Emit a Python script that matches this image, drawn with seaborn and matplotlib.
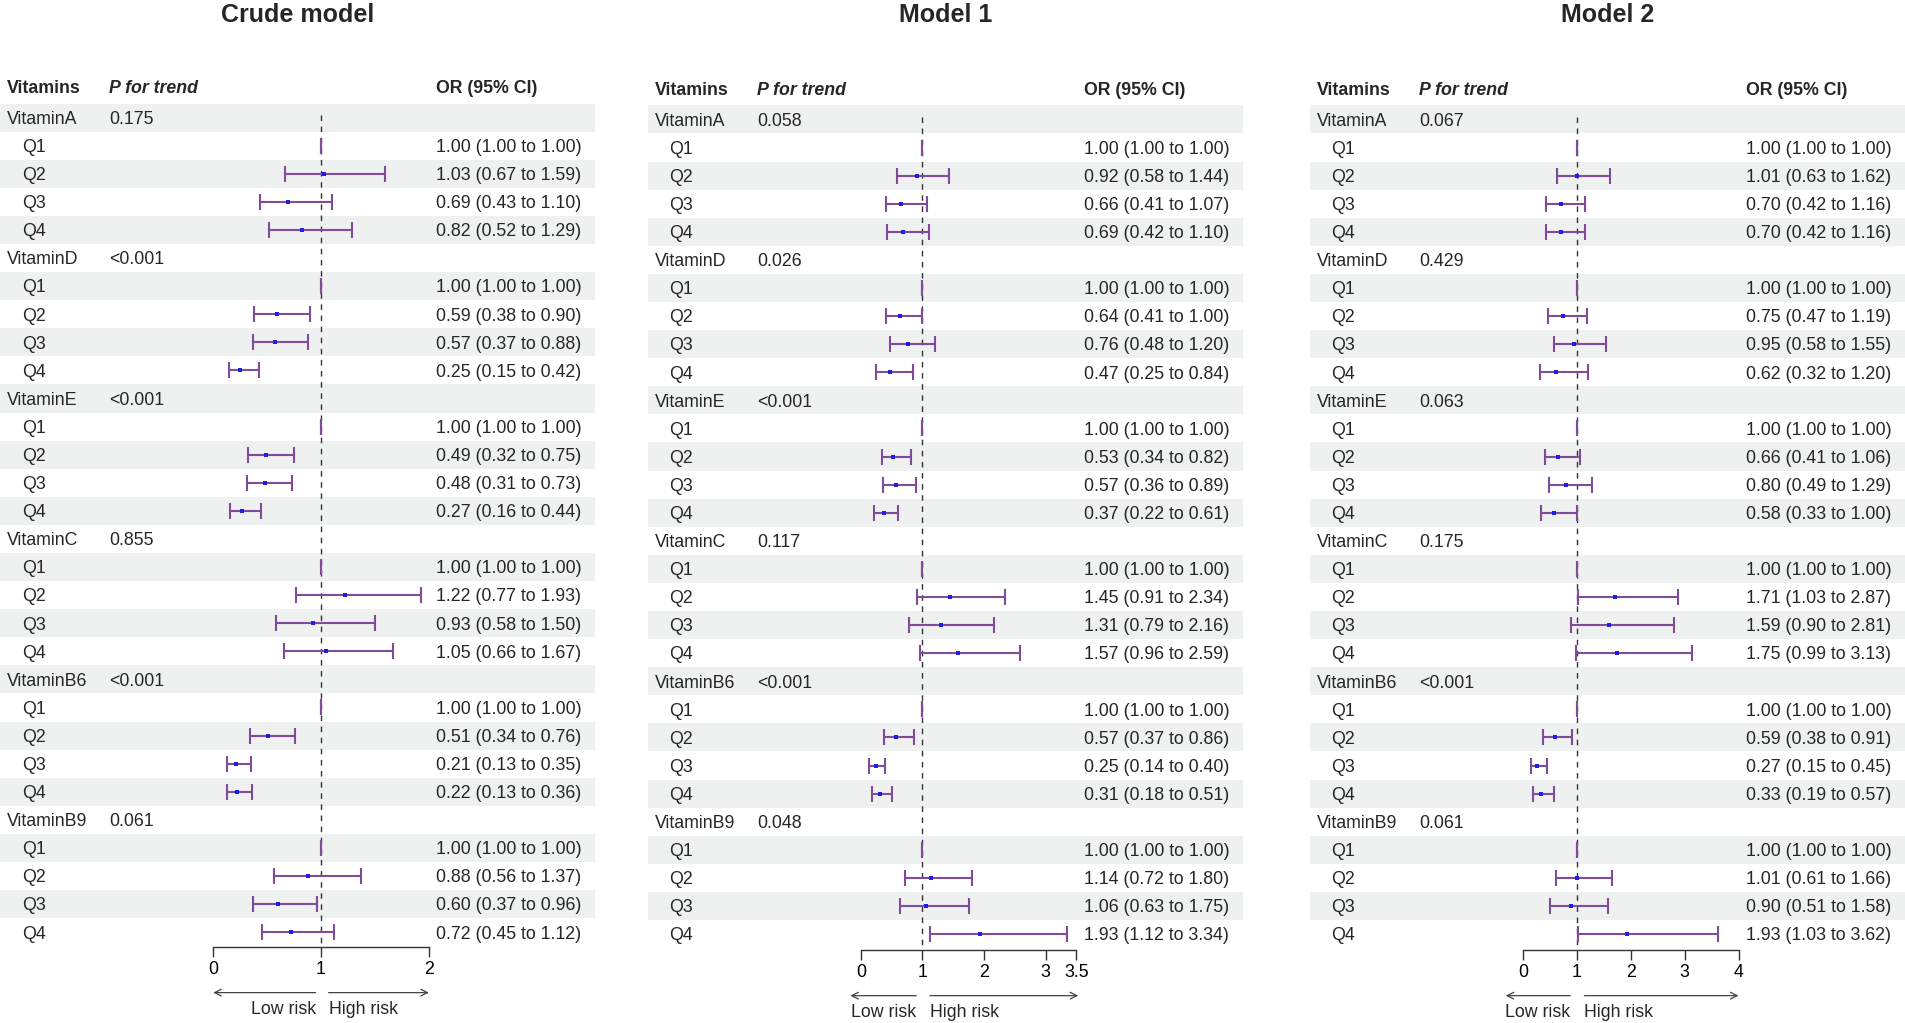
import matplotlib.pyplot as plt
import pandas as pd
import seaborn as sns
from matplotlib.patches import Rectangle

# ---- data ----
vitamins = ["VitaminA", "VitaminD", "VitaminE", "VitaminC", "VitaminB6", "VitaminB9"]
quartiles = ["Q1", "Q2", "Q3", "Q4"]

p_crude = ["0.175", "<0.001", "<0.001", "0.855", "<0.001", "0.061"]
or_crude = [1.00, 1.03, 0.69, 0.82, 1.00, 0.59, 0.57, 0.25, 1.00, 0.49, 0.48, 0.27,
            1.00, 1.22, 0.93, 1.05, 1.00, 0.51, 0.21, 0.22, 1.00, 0.88, 0.60, 0.72]
lo_crude = [1.00, 0.67, 0.43, 0.52, 1.00, 0.38, 0.37, 0.15, 1.00, 0.32, 0.31, 0.16,
            1.00, 0.77, 0.58, 0.66, 1.00, 0.34, 0.13, 0.13, 1.00, 0.56, 0.37, 0.45]
hi_crude = [1.00, 1.59, 1.10, 1.29, 1.00, 0.90, 0.88, 0.42, 1.00, 0.75, 0.73, 0.44,
            1.00, 1.93, 1.50, 1.67, 1.00, 0.76, 0.35, 0.36, 1.00, 1.37, 0.96, 1.12]

p_m1 = ["0.058", "0.026", "<0.001", "0.117", "<0.001", "0.048"]
or_m1 = [1.00, 0.92, 0.66, 0.69, 1.00, 0.64, 0.76, 0.47, 1.00, 0.53, 0.57, 0.37,
         1.00, 1.45, 1.31, 1.57, 1.00, 0.57, 0.25, 0.31, 1.00, 1.14, 1.06, 1.93]
lo_m1 = [1.00, 0.58, 0.41, 0.42, 1.00, 0.41, 0.48, 0.25, 1.00, 0.34, 0.36, 0.22,
         1.00, 0.91, 0.79, 0.96, 1.00, 0.37, 0.14, 0.18, 1.00, 0.72, 0.63, 1.12]
hi_m1 = [1.00, 1.44, 1.07, 1.10, 1.00, 1.00, 1.20, 0.84, 1.00, 0.82, 0.89, 0.61,
         1.00, 2.34, 2.16, 2.59, 1.00, 0.86, 0.40, 0.51, 1.00, 1.80, 1.75, 3.34]

p_m2 = ["0.067", "0.429", "0.063", "0.175", "<0.001", "0.061"]
or_m2 = [1.00, 1.01, 0.70, 0.70, 1.00, 0.75, 0.95, 0.62, 1.00, 0.66, 0.80, 0.58,
         1.00, 1.71, 1.59, 1.75, 1.00, 0.59, 0.27, 0.33, 1.00, 1.01, 0.90, 1.93]
lo_m2 = [1.00, 0.63, 0.42, 0.42, 1.00, 0.47, 0.58, 0.32, 1.00, 0.41, 0.49, 0.33,
         1.00, 1.03, 0.90, 0.99, 1.00, 0.38, 0.15, 0.19, 1.00, 0.61, 0.51, 1.03]
hi_m2 = [1.00, 1.62, 1.16, 1.16, 1.00, 1.19, 1.55, 1.20, 1.00, 1.06, 1.29, 1.00,
         1.00, 2.87, 2.81, 3.13, 1.00, 0.91, 0.45, 0.57, 1.00, 1.66, 1.58, 3.62]

titles = ["Crude model", "Model 1", "Model 2"]
xticks_crude = [0, 1, 2]
xticks_m1 = [0, 1, 2, 3, 3.5]
xticks_m2 = [0, 1, 2, 3, 4]

# ---- layout (reference pixel frame 1568 x 842) ----
W, H = 1568, 842
DY = 23.12
TXT_DY = 1.5  # nudge text down a touch
GRAY = "#eff0f0"
PURPLE = "#7f4c9c"
BLUE = "#1e1ee6"


def fx(x):
    return x / W


def fy(y):
    return 1 - y / H


def panel_frame(or_vals, lo_vals, hi_vals):
    rows, ors, los, his = [], [], [], []
    k = 0
    for j in range(len(vitamins)):
        for q in range(len(quartiles)):
            rows.append(j * 5 + 1 + q)
            ors.append(or_vals[k])
            los.append(lo_vals[k])
            his.append(hi_vals[k])
            k += 1
    return pd.DataFrame({"row": rows, "or": ors, "lo": los, "hi": his})


panels = [
    dict(title=titles[0], p=p_crude, df=panel_frame(or_crude, lo_crude, hi_crude),
         left=0, y0=96.8, head_y=71, axis_y=779.5, xmax=2, ticks=xticks_crude,
         arrows=((0.95, 0.0), (1.07, 2.0))),
    dict(title=titles[1], p=p_m1, df=panel_frame(or_m1, lo_m1, hi_m1),
         left=533, y0=98.3, head_y=73, axis_y=782, xmax=3.5, ticks=xticks_m1,
         arrows=((0.90, -0.17), (1.12, 3.53))),
    dict(title=titles[2], p=p_m2, df=panel_frame(or_m2, lo_m2, hi_m2),
         left=1078, y0=98.3, head_y=73, axis_y=782, xmax=4, ticks=xticks_m2,
         arrows=((0.88, -0.32), (1.14, 4.0))),
]

sns.set_theme(style="white")
plt.rcParams["font.family"] = ["Liberation Sans", "DejaVu Sans"]
FS = 12.8

fig = plt.figure(figsize=(19.05, 10.23), dpi=100)
bg = fig.add_axes([0, 0, 1, 1])
bg.set_xlim(0, W)
bg.set_ylim(H, 0)
bg.axis("off")

for pan in panels:
    L = pan["left"]
    y0 = pan["y0"]
    n_rows = len(vitamins) * 5

    # striped rows
    for i in range(0, n_rows, 2):
        bg.add_patch(Rectangle((L, y0 + i * DY - DY / 2), min(490, W - L), DY,
                               facecolor=GRAY, linewidth=0))

    bg.text(L + 245, 12, pan["title"], ha="center", va="center",
            fontsize=18, fontweight="bold")
    hy = pan["head_y"] + TXT_DY
    bg.text(L + 6, hy, "Vitamins", ha="left", va="center",
            fontsize=FS, fontweight="bold")
    bg.text(L + 90, hy, "P for trend", ha="left", va="center",
            fontsize=FS, fontweight="bold", fontstyle="italic")
    bg.text(L + 359, hy, "OR (95% CI)", ha="left", va="center",
            fontsize=FS, fontweight="bold")

    df = pan["df"]
    for j, vit in enumerate(vitamins):
        yy = y0 + j * 5 * DY + TXT_DY
        bg.text(L + 6, yy, vit, ha="left", va="center", fontsize=FS)
        bg.text(L + 90, yy, pan["p"][j], ha="left", va="center", fontsize=FS)
    for _, r in df.iterrows():
        yy = y0 + r["row"] * DY + TXT_DY
        q = quartiles[(int(r["row"]) - 1) % 5]
        bg.text(L + 18, yy, q, ha="left", va="center", fontsize=FS)
        bg.text(L + 359, yy, f"{r['or']:.2f} ({r['lo']:.2f} to {r['hi']:.2f})",
                ha="left", va="center", fontsize=FS)

    # forest axes
    top = y0 - DY / 2
    bottom = pan["axis_y"]
    x0, xw = L + 175.5, 177.5
    fax = fig.add_axes([fx(x0), fy(bottom), xw / W, (bottom - top) / H])
    fax.patch.set_alpha(0)
    ylim_bottom = (bottom - y0) / DY

    fax.vlines(1, -0.1, ylim_bottom, colors="#333333", linestyles=(0, (4, 4)),
               linewidth=1.0, zorder=1)
    fax.errorbar(df["or"], df["row"], xerr=[df["or"] - df["lo"], df["hi"] - df["or"]],
                 fmt="none", ecolor=PURPLE, elinewidth=1.5, capsize=5.5,
                 capthick=1.5, zorder=2)
    pts = df[df["lo"] < df["hi"]]
    sns.scatterplot(data=pts, x="or", y="row", marker="s", s=9, color=BLUE,
                    linewidth=0, ax=fax, zorder=3)

    fax.set_xlim(0, pan["xmax"])
    fax.set_ylim(ylim_bottom, -0.5)
    fax.set_xlabel("")
    fax.set_ylabel("")
    fax.set_yticks([])
    for s in ["top", "left", "right"]:
        fax.spines[s].set_visible(False)
    fax.spines["bottom"].set_color("#333333")
    fax.spines["bottom"].set_linewidth(1.0)
    fax.set_xticks(pan["ticks"])
    fax.set_xticklabels([f"{t:g}" for t in pan["ticks"]])
    fax.tick_params(axis="x", bottom=True, length=7, width=1.0, color="#333333",
                    labelsize=FS, pad=3, labelcolor="black")

    # risk arrows
    ax_h = bottom - top
    arrow_y = -37.5 / ax_h
    text_y = -51.5 / ax_h
    (l0, l1), (r0, r1) = pan["arrows"]
    for a, b in [(l0, l1), (r0, r1)]:
        fax.annotate("", xy=(b, arrow_y), xytext=(a, arrow_y),
                     xycoords=("data", "axes fraction"),
                     textcoords=("data", "axes fraction"),
                     arrowprops=dict(arrowstyle="->", color="#444444", lw=0.9,
                                     shrinkA=0, shrinkB=0),
                     annotation_clip=False)
    fax.text(l0, text_y, "Low risk", ha="right", va="center", fontsize=FS,
             transform=fax.get_xaxis_transform())
    fax.text(r0, text_y, "High risk", ha="left", va="center", fontsize=FS,
             transform=fax.get_xaxis_transform())

fig.savefig("out.png", dpi=100)
